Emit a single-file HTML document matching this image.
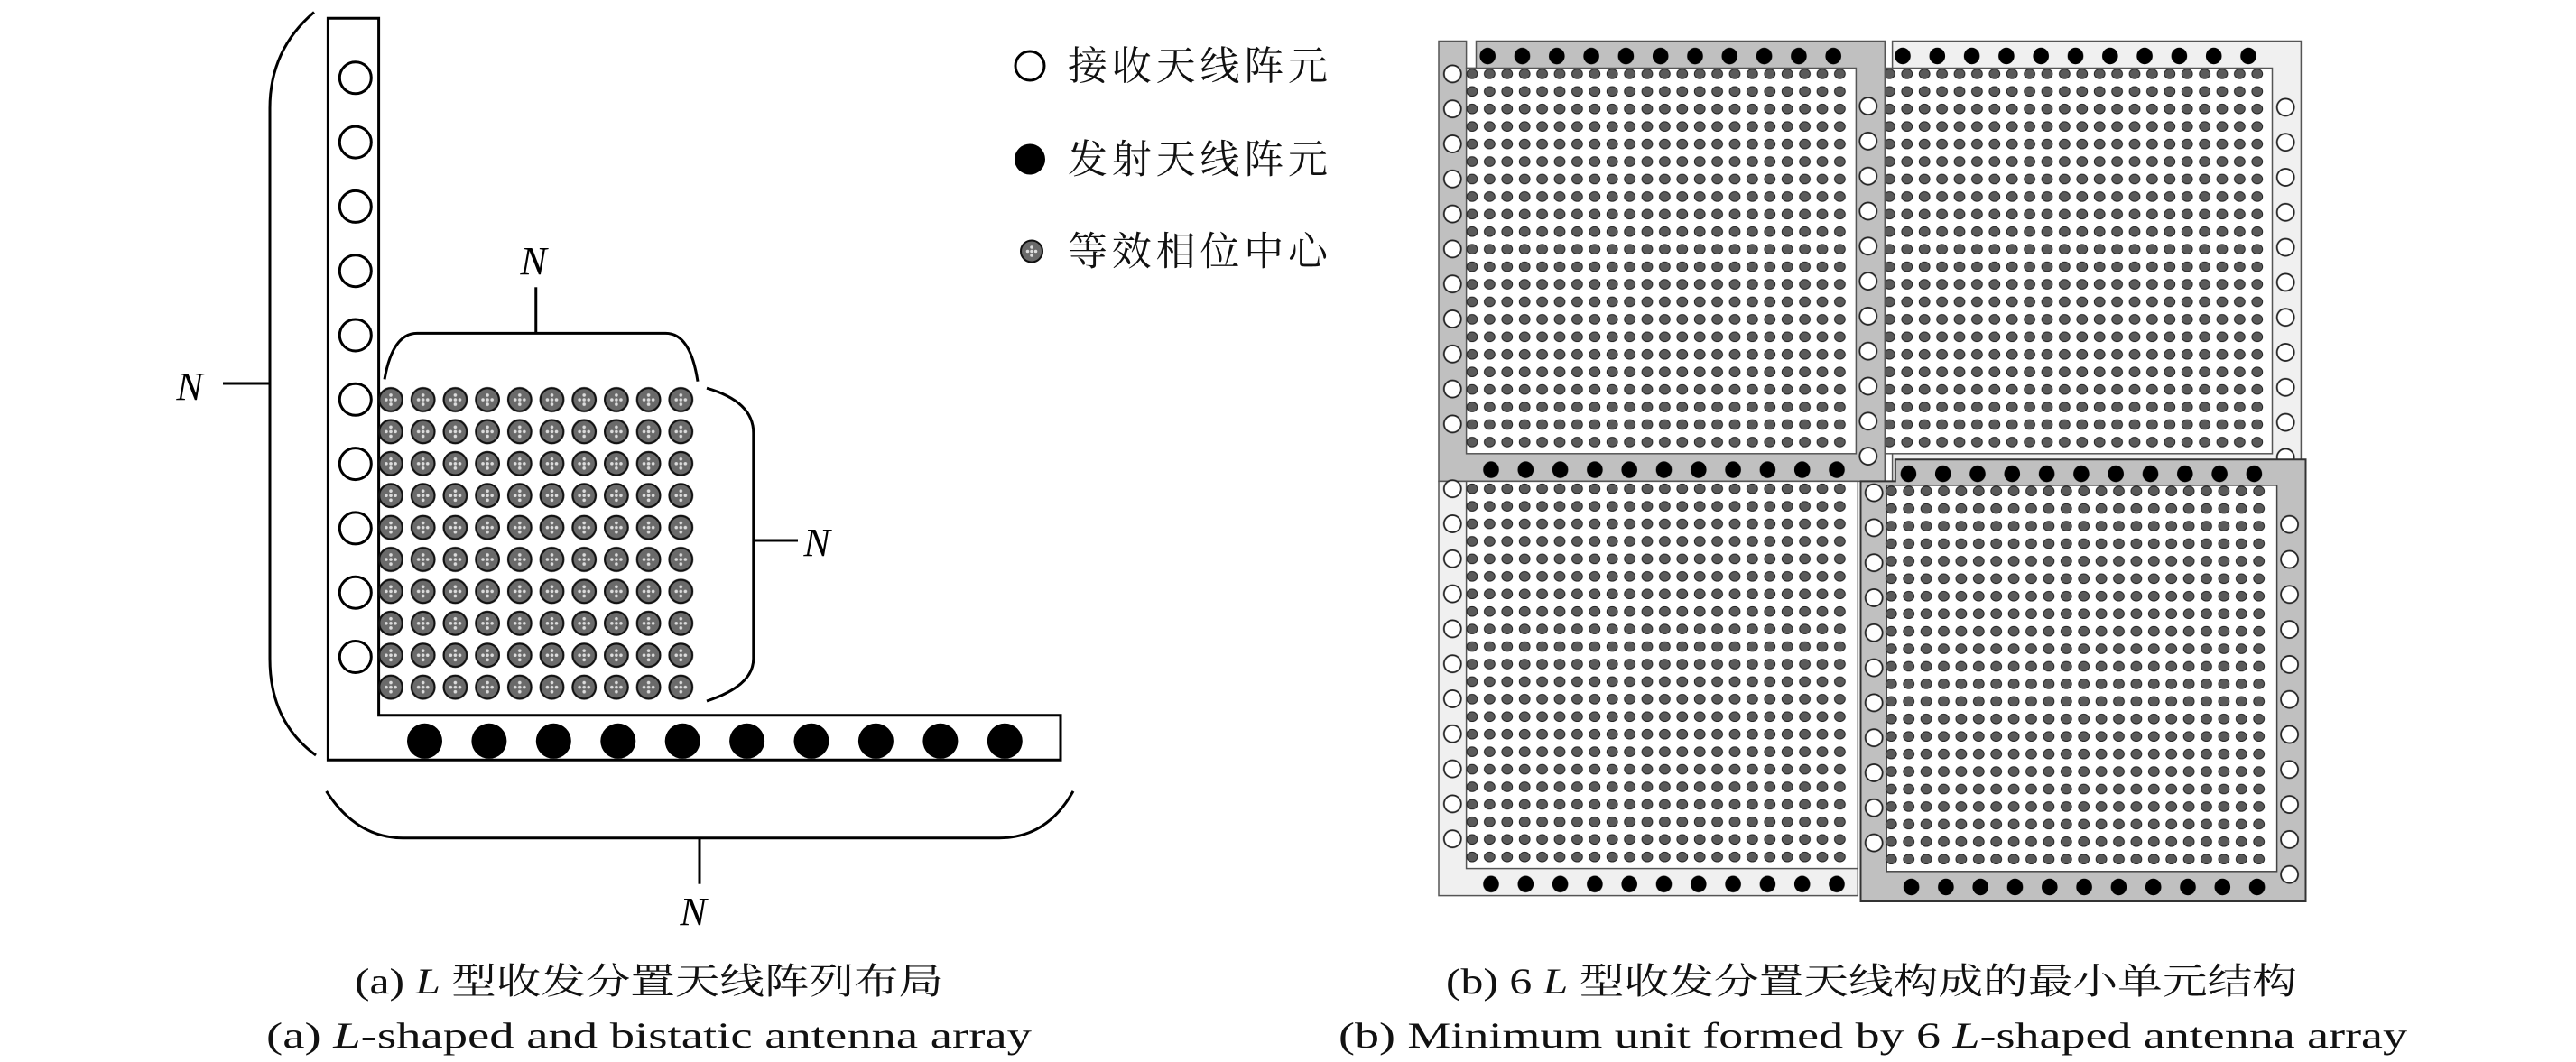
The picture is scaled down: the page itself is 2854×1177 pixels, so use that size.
<!DOCTYPE html>
<html><head><meta charset="utf-8"><style>html,body{margin:0;padding:0;background:#fff}svg{display:block}</style></head>
<body>
<svg width="2854" height="1177" viewBox="0 0 2854 1177" xmlns="http://www.w3.org/2000/svg">
<defs>
<pattern id="hd" patternUnits="userSpaceOnUse" width="35.7" height="35.4">
<circle cx="17.85" cy="17.7" r="12.8" fill="#6a6a6a" stroke="#111" stroke-width="2.2"/>
<circle cx="17.85" cy="17.7" r="1.8" fill="#ddd"/><circle cx="12.8" cy="17.7" r="1.8" fill="#ddd"/><circle cx="22.9" cy="17.7" r="1.8" fill="#ddd"/><circle cx="17.85" cy="12.6" r="1.8" fill="#ddd"/><circle cx="17.85" cy="22.8" r="1.8" fill="#ddd"/>
</pattern>
<pattern id="gd" patternUnits="userSpaceOnUse" width="19.4" height="19.43">
<ellipse cx="9.7" cy="9.7" rx="5.9" ry="5.3" fill="#5a5a5a" stroke="#222" stroke-width="1"/>
</pattern>
<pattern id="oc" patternUnits="userSpaceOnUse" width="22" height="38.8">
<circle cx="11" cy="19.4" r="9.5" fill="#fff" stroke="#222" stroke-width="1.8"/>
</pattern>
<pattern id="bd" patternUnits="userSpaceOnUse" width="38.3" height="22">
<ellipse cx="19.15" cy="11" rx="8.8" ry="9.2" fill="#000"/>
</pattern>
</defs>

<!-- LEFT PANEL -->
<path d="M363.4,20.3 H419.6 V792.8 H1175 V842.3 H363.4 Z" fill="#fff" stroke="#000" stroke-width="3"/>
<g fill="#fff" stroke="#000" stroke-width="3">
<circle cx="393.8" cy="86.3" r="17.5"/><circle cx="393.8" cy="157.6" r="17.5"/><circle cx="393.8" cy="228.9" r="17.5"/><circle cx="393.8" cy="300.2" r="17.5"/><circle cx="393.8" cy="371.5" r="17.5"/><circle cx="393.8" cy="442.8" r="17.5"/><circle cx="393.8" cy="514.1" r="17.5"/><circle cx="393.8" cy="585.4" r="17.5"/><circle cx="393.8" cy="656.7" r="17.5"/><circle cx="393.8" cy="728" r="17.5"/>
</g>
<g fill="#000">
<circle cx="470.5" cy="821.3" r="19.5"/><circle cx="541.9" cy="821.3" r="19.5"/><circle cx="613.3" cy="821.3" r="19.5"/><circle cx="684.8" cy="821.3" r="19.5"/><circle cx="756.2" cy="821.3" r="19.5"/><circle cx="827.6" cy="821.3" r="19.5"/><circle cx="899" cy="821.3" r="19.5"/><circle cx="970.4" cy="821.3" r="19.5"/><circle cx="1041.9" cy="821.3" r="19.5"/><circle cx="1113.3" cy="821.3" r="19.5"/>
</g>
<g transform="translate(415.15,425.3)"><rect x="0" y="0" width="357" height="354" fill="url(#hd)"/></g>

<g fill="none" stroke="#000" stroke-width="3">
<path d="M348,13.5 Q299,55 299,120 V730 Q299,800 350,837"/>
<path d="M247,425 H299"/>
<path d="M426,420.4 Q435,369.4 462,369.4 H737.5 Q765,369.4 773,422.7"/>
<path d="M593.75,318.3 V369.4"/>
<path d="M783,430.2 Q834.8,445 834.8,480 V730 Q834.8,760 783,777"/>
<path d="M834.8,599 H884"/>
<path d="M361.6,876.9 Q395,928.7 446.4,928.7 H1107 Q1160,928.7 1189,876.9"/>
<path d="M775,928.7 V979.7"/>
</g>
<g font-family="'Liberation Serif', serif" font-style="italic" font-size="44" fill="#000" text-anchor="middle">
<text x="210" y="443">N</text>
<text x="591" y="304">N</text>
<text x="905" y="616">N</text>
<text x="768" y="1025">N</text>
</g>

<!-- Legend -->
<circle cx="1141" cy="73" r="16" fill="#fff" stroke="#000" stroke-width="3"/>
<circle cx="1141" cy="176.5" r="17" fill="#000"/>
<circle cx="1143" cy="278.5" r="12" fill="#6a6a6a" stroke="#111" stroke-width="2"/>
<g fill="#ddd"><circle cx="1143" cy="278.5" r="1.8"/><circle cx="1138.5" cy="278.5" r="1.8"/><circle cx="1147.5" cy="278.5" r="1.8"/><circle cx="1143" cy="274" r="1.8"/><circle cx="1143" cy="283" r="1.8"/></g>
<g font-family="'Liberation Serif','Noto Serif CJK SC',serif" font-size="44" fill="#111">
<text x="1183" y="88" textLength="288">接收天线阵元</text>
<text x="1183" y="191.5" textLength="288">发射天线阵元</text>
<text x="1183" y="293.5" textLength="288">等效相位中心</text>
</g>

<!-- RIGHT PANEL -->
<!-- TR -->
<rect x="2096.6" y="45.5" width="452.8" height="489.8" fill="#f0f0f0" stroke="#555" stroke-width="1.5"/>
<rect x="2088.3" y="75.5" width="429.2" height="427.3" fill="#fff" stroke="#555" stroke-width="1.5"/>
<g transform="translate(2083.7,72.2)"><rect width="426.8" height="427.5" fill="url(#gd)"/></g>
<g transform="translate(2088.85,51)"><rect width="421.3" height="22" fill="url(#bd)"/></g>
<g transform="translate(2521.2,99.5)"><rect width="22" height="426.8" fill="url(#oc)"/></g>
<!-- TL -->
<path d="M1594,45.5 H1624.6 V75.5 H1635.5 V45.5 H2088.3 V533.4 H1594 Z" fill="#c0c0c0" stroke="#555" stroke-width="1.5"/>
<rect x="1624.6" y="75.5" width="431.8" height="427.3" fill="#fff" stroke="#555" stroke-width="1.5"/>
<g transform="translate(1621.3,72.2)"><rect width="426.8" height="427.5" fill="url(#gd)"/></g>
<g transform="translate(1598.3,62.5)"><rect width="22" height="426.8" fill="url(#oc)"/></g>
<g transform="translate(1629.05,51.1)"><rect width="421.3" height="22" fill="url(#bd)"/></g>
<g transform="translate(1632.85,509.6)"><rect width="421.3" height="22" fill="url(#bd)"/></g>
<g transform="translate(2058.8,98.2)"><rect width="22" height="426.8" fill="url(#oc)"/></g>
<!-- BL -->
<rect x="1594" y="533.4" width="464.3" height="459.2" fill="#f0f0f0" stroke="#555" stroke-width="1.5"/>
<rect x="1624.6" y="533.4" width="433.7" height="429.2" fill="#fff" stroke="#555" stroke-width="1.5"/>
<g transform="translate(1621.3,532)"><rect width="426.8" height="427.5" fill="url(#gd)"/></g>
<g transform="translate(1598.3,522.3)"><rect width="22" height="426.8" fill="url(#oc)"/></g>
<g transform="translate(1632.85,968.8)"><rect width="421.3" height="22" fill="url(#bd)"/></g>
<!-- BR -->
<path d="M2061.5,533.4 H2099.8 V509.2 H2554.5 V999 H2061.5 Z" fill="#c0c0c0" stroke="#333" stroke-width="2"/>
<rect x="2090.2" y="537.9" width="432.4" height="427.9" fill="#fff" stroke="#444" stroke-width="1.5"/>
<g transform="translate(2085.6,534.5)"><rect width="426.8" height="427.5" fill="url(#gd)"/></g>
<g transform="translate(2065.2,526.7)"><rect width="22" height="426.8" fill="url(#oc)"/></g>
<g transform="translate(2525.6,561.8)"><rect width="22" height="426.8" fill="url(#oc)"/></g>
<g transform="translate(2095.25,514.1)"><rect width="421.3" height="22" fill="url(#bd)"/></g>
<g transform="translate(2098.45,972)"><rect width="421.3" height="22" fill="url(#bd)"/></g>

<!-- Captions -->
<g font-family="'Liberation Serif','Noto Serif CJK SC',serif" font-size="40" fill="#111">
<text x="393" y="1101" textLength="652" lengthAdjust="spacingAndGlyphs">(a) <tspan font-style="italic">L</tspan> 型收发分置天线阵列布局</text>
<text x="295" y="1161" textLength="848" lengthAdjust="spacingAndGlyphs">(a) <tspan font-style="italic">L</tspan>-shaped and bistatic antenna array</text>
<text x="1602" y="1101" textLength="943" lengthAdjust="spacingAndGlyphs">(b) 6 <tspan font-style="italic">L</tspan> 型收发分置天线构成的最小单元结构</text>
<text x="1483" y="1161" textLength="1184" lengthAdjust="spacingAndGlyphs">(b) Minimum unit formed by 6 <tspan font-style="italic">L</tspan>-shaped antenna array</text>
</g>
</svg>
</body></html>
